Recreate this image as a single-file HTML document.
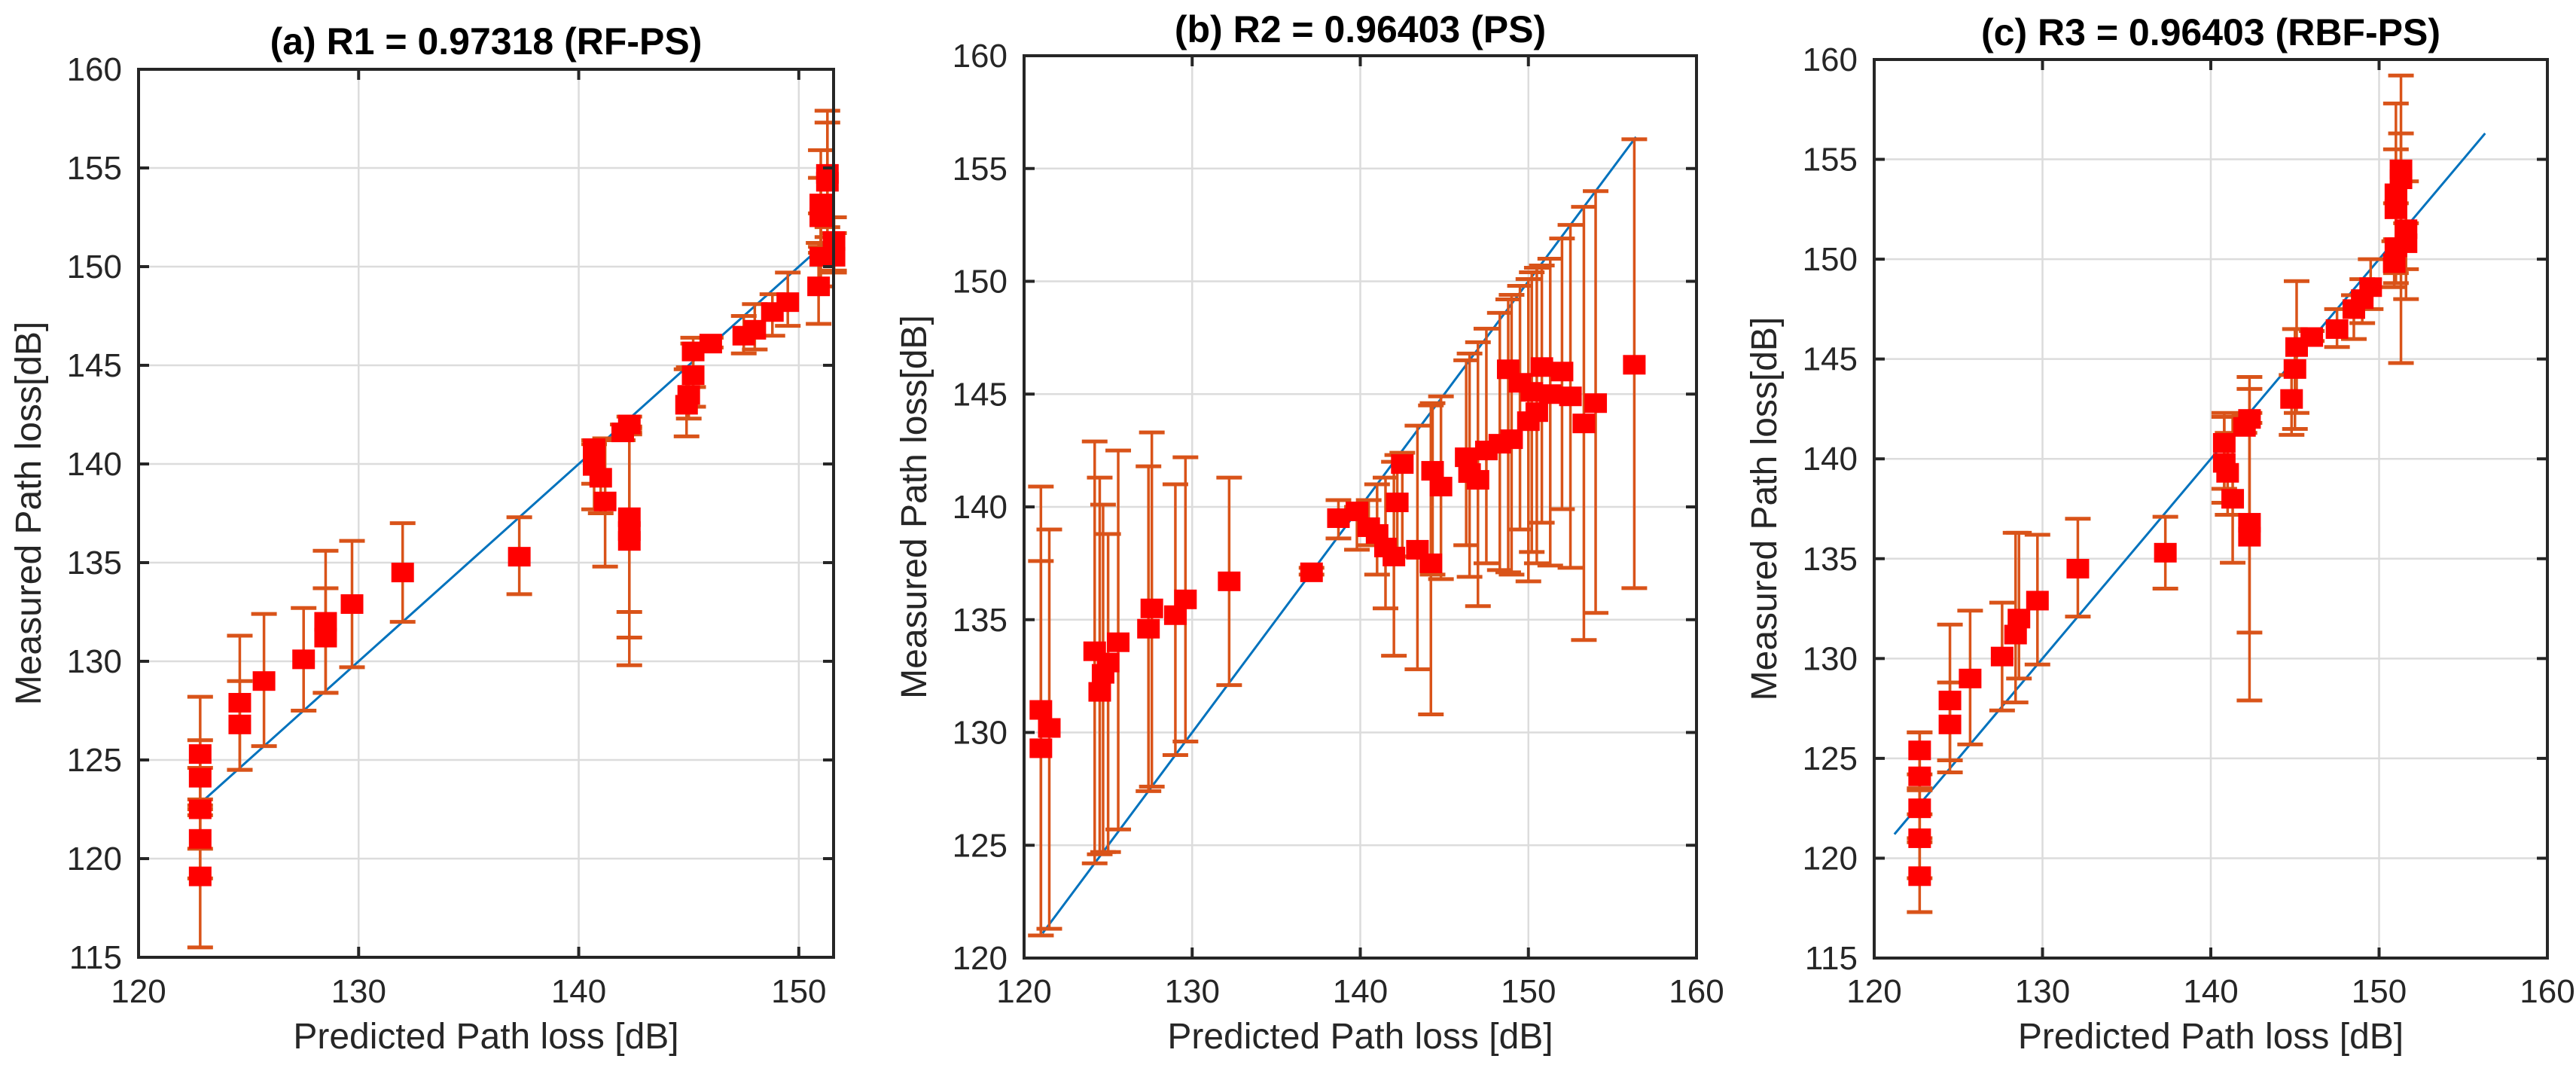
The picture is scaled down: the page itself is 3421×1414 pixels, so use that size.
<!DOCTYPE html>
<html><head><meta charset="utf-8"><style>
html,body{margin:0;padding:0;background:#fff;}
svg{display:block;font-family:"Liberation Sans",Arial,sans-serif;}
</style></head><body>
<svg id="fig" width="3421" height="1414" viewBox="0 0 3421 1414" xmlns="http://www.w3.org/2000/svg"></svg>
<script>
// Panel (a) data: predicted, measured, lower, upper
const aX  = [122.8,122.8,122.8,122.8,122.8,124.6,124.6,125.7,127.5,128.5,128.5,129.7,132.0,137.3,140.7,140.7,141.0,141.2,142.0,142.3,142.3,142.3,142.3,144.9,145.0,145.2,145.2,146.0,147.5,148.0,148.8,149.5,150.9,151.0,151.0,151.0,151.3,151.3,151.6,151.6];
const aY  = [119.1,121.0,122.5,124.1,125.3,126.8,127.9,129.0,130.1,131.2,132.0,132.9,134.5,135.3,140.8,139.9,139.3,138.1,141.6,142.0,137.3,136.1,136.6,143.0,143.5,144.5,145.7,146.1,146.5,146.8,147.7,148.2,149.0,150.5,152.5,153.2,154.3,154.7,151.3,150.5];
const aLo = [115.5,119.0,120.5,122.2,122.5,124.5,124.5,125.7,127.5,128.4,128.4,129.7,132.0,133.4,139.0,137.7,137.5,134.8,141.2,141.6,132.5,129.8,131.2,141.4,142.3,142.9,143.9,145.9,145.6,145.8,146.5,147.0,147.1,149.0,150.7,151.0,151.5,152.0,149.8,149.7];
const aHi = [122.7,123.0,124.6,126.0,128.2,129.0,131.3,132.4,132.7,133.7,135.6,136.1,137.0,137.3,141.2,141.0,141.2,141.3,142.0,142.4,141.8,141.5,141.9,144.8,144.9,146.1,146.4,146.4,147.5,148.1,148.6,149.7,151.2,152.7,154.5,155.9,157.3,157.9,152.5,151.7];
// Panel (b)
const bX  = [121.0,121.0,121.5,124.2,124.5,124.7,125.0,125.6,127.4,127.6,129.0,129.6,132.2,137.1,138.7,139.8,140.5,141.0,141.5,142.0,142.2,142.5,143.4,144.2,144.3,144.8,146.3,146.5,147.0,147.5,148.3,148.8,149.0,149.5,150.0,150.2,150.5,150.8,151.3,152.0,152.5,153.3,154.0,156.3];
const bY  = [129.3,131.0,130.2,133.6,131.8,132.6,133.1,134.0,134.6,135.5,135.2,135.9,136.7,137.1,139.5,139.8,139.1,138.8,138.2,137.8,140.2,141.9,138.1,137.5,141.6,140.9,142.2,141.5,141.2,142.5,142.8,146.1,143.0,145.5,143.8,145.1,144.2,146.2,145.0,146.0,144.9,143.7,144.6,146.3];
const bLo = [121.0,121.0,121.3,124.2,124.6,124.7,124.7,125.7,127.4,127.6,129.0,129.6,132.1,137.0,138.6,138.1,138.3,137.0,135.5,133.4,137.8,137.8,132.8,130.8,137.0,136.8,138.3,136.9,135.6,137.5,137.2,137.1,137.0,139.0,136.7,138.0,137.5,139.3,137.4,139.9,137.3,134.1,135.3,136.4];
const bHi = [137.6,140.9,139.0,142.9,141.3,140.1,138.8,142.5,141.8,143.3,141.0,142.2,141.3,137.3,140.3,140.0,140.3,141.0,141.3,142.0,142.3,142.4,143.6,144.5,144.6,144.9,146.5,146.8,147.3,147.9,148.6,149.2,149.4,149.8,150.1,150.4,150.6,150.7,151.0,151.9,152.5,153.3,154.0,156.3];
// Panel (c)
const cX  = [122.7,122.7,122.7,122.7,122.7,124.5,124.5,125.7,127.6,128.4,128.6,129.7,132.1,137.3,140.8,140.8,141.0,141.3,142.0,142.3,142.3,142.3,144.8,145.0,145.1,146.0,147.5,148.5,149.0,149.5,150.9,151.0,151.0,151.0,151.3,151.3,151.6,151.6];
const cY  = [119.1,121.0,122.5,124.1,125.4,126.7,127.9,129.0,130.1,131.2,132.0,132.9,134.5,135.3,140.8,139.8,139.3,138.0,141.6,142.0,136.8,136.1,143.0,144.5,145.6,146.1,146.5,147.5,148.0,148.6,149.8,150.6,152.5,153.3,154.0,154.5,151.5,150.8];
const cLo = [117.3,119.0,120.8,122.2,123.5,124.3,124.9,125.7,127.4,127.8,129.0,129.7,132.1,133.5,138.5,137.8,137.2,134.8,141.3,141.8,131.3,127.9,141.2,141.5,142.3,145.9,145.6,146.0,146.8,147.5,148.6,148.8,149.3,151.0,151.0,144.8,148.0,149.5];
const cHi = [121.0,123.4,124.2,126.3,126.3,128.8,131.7,132.4,132.8,136.3,136.3,136.2,137.0,137.1,142.3,142.1,141.3,142.1,142.2,142.3,144.1,143.5,144.2,146.5,148.9,146.4,147.5,148.2,149.0,150.0,150.9,152.8,155.5,157.8,159.2,156.3,153.9,151.8];
// Fit lines
const aLine = [122.8,151.6];
const bLine = [121.1,156.4];
const cLine = [121.2,156.3];
const xTicksA = [120,130,140,150];
const xTicksBC = [120,130,140,150,160];
const yTicksAC = [115,120,125,130,135,140,145,150,155,160];
const yTicksB = [120,125,130,135,140,145,150,155,160];

const NS="http://www.w3.org/2000/svg";
const svg=document.getElementById('fig');
function mk(tag,attrs,parent){const e=document.createElementNS(NS,tag);for(const k in attrs)e.setAttribute(k,attrs[k]);(parent||svg).appendChild(e);return e;}

function panel(id,box,xmin,xmax,ymin,ymax,xt,yt,X,Y,LO,HI,line,title,titleY){
  const g=mk('g',{});
  
  
  const sx=v=>box.l+(v-xmin)/(xmax-xmin)*(box.r-box.l);
  const sy=v=>box.b-(v-ymin)/(ymax-ymin)*(box.b-box.t);
  xt.forEach(v=>{if(v>xmin&&v<xmax){const l=mk('line',{x1:sx(v),x2:sx(v),y1:box.t,y2:box.b,stroke:'#dcdcdc','stroke-width':2.5},g);
    
    }});
  yt.forEach(v=>{if(v>ymin&&v<ymax){const l=mk('line',{x1:box.l,x2:box.r,y1:sy(v),y2:sy(v),stroke:'#dcdcdc','stroke-width':2.5},g);
    
    }});
  const fl=mk('line',{x1:sx(line[0]),y1:sy(line[0]),x2:sx(line[1]),y2:sy(line[1]),stroke:'#0072bd','stroke-width':3},g);
  
  
  for(let i=0;i<X.length;i++){
    const x=sx(X[i]);
    const eb=mk('g',{stroke:'#d95319','stroke-width':3.5},g);
    
    
    mk('line',{x1:x,x2:x,y1:sy(LO[i]),y2:sy(HI[i])},eb);
    mk('line',{x1:x-17,x2:x+17,y1:sy(LO[i]),y2:sy(LO[i]),'stroke-width':5},eb);
    mk('line',{x1:x-17,x2:x+17,y1:sy(HI[i]),y2:sy(HI[i]),'stroke-width':5},eb);
  }
  for(let i=0;i<X.length;i++){
    const m=mk('rect',{x:sx(X[i])-15,y:sy(Y[i])-13,width:30,height:26,fill:'#ff0000'},g);
    
    
  }
  const bx=mk('rect',{x:box.l,y:box.t,width:box.r-box.l,height:box.b-box.t,fill:'none',stroke:'#262626','stroke-width':4},g);
  
  
  xt.forEach(v=>{const x=sx(v);
    if(v>xmin&&v<xmax){mk('line',{x1:x,x2:x,y1:box.b,y2:box.b-14,stroke:'#262626','stroke-width':4},g);mk('line',{x1:x,x2:x,y1:box.t,y2:box.t+14,stroke:'#262626','stroke-width':4},g);}
    const t=mk('text',{x:x,y:1331,'text-anchor':'middle','font-size':44,fill:'#262626'},g);t.textContent=v;
    
    });
  yt.forEach(v=>{const y=sy(v);
    if(v>ymin&&v<ymax){mk('line',{x1:box.l,x2:box.l+14,y1:y,y2:y,stroke:'#262626','stroke-width':4},g);mk('line',{x1:box.r,x2:box.r-14,y1:y,y2:y,stroke:'#262626','stroke-width':4},g);}
    const t=mk('text',{x:box.l-22,y:y+15,'text-anchor':'end','font-size':44,fill:'#262626'},g);t.textContent=v;
    
    });
  const xl=mk('text',{x:(box.l+box.r)/2,y:1392,'text-anchor':'middle','font-size':48,fill:'#262626'},g);
  xl.textContent='Predicted Path loss [dB]';
  
  
  const yc=(box.t+box.b)/2, yx=box.l-130;
  const yl=mk('text',{x:yx,y:yc,'text-anchor':'middle','font-size':48,fill:'#262626',transform:`rotate(-90 ${yx} ${yc})`},g);
  yl.textContent='Measured Path loss[dB]';
  
  
  const tt=mk('text',{x:(box.l+box.r)/2,y:titleY,'text-anchor':'middle','font-size':50,'font-weight':'bold',fill:'#000'},g);
  tt.textContent=title;
  
  
}
panel('a',{l:184,r:1107,t:92,b:1271},120,151.58,115,160,xTicksA,yTicksAC,aX,aY,aLo,aHi,aLine,'(a) R1 = 0.97318 (RF-PS)',72);
panel('b',{l:1360,r:2253,t:74,b:1272},120,160,120,160,xTicksBC,yTicksB,bX,bY,bLo,bHi,bLine,'(b) R2 = 0.96403 (PS)',56);
panel('c',{l:2489,r:3383,t:79,b:1272},120,160,115,160,xTicksBC,yTicksAC,cX,cY,cLo,cHi,cLine,'(c) R3 = 0.96403 (RBF-PS)',60);
</script>
</body></html>
